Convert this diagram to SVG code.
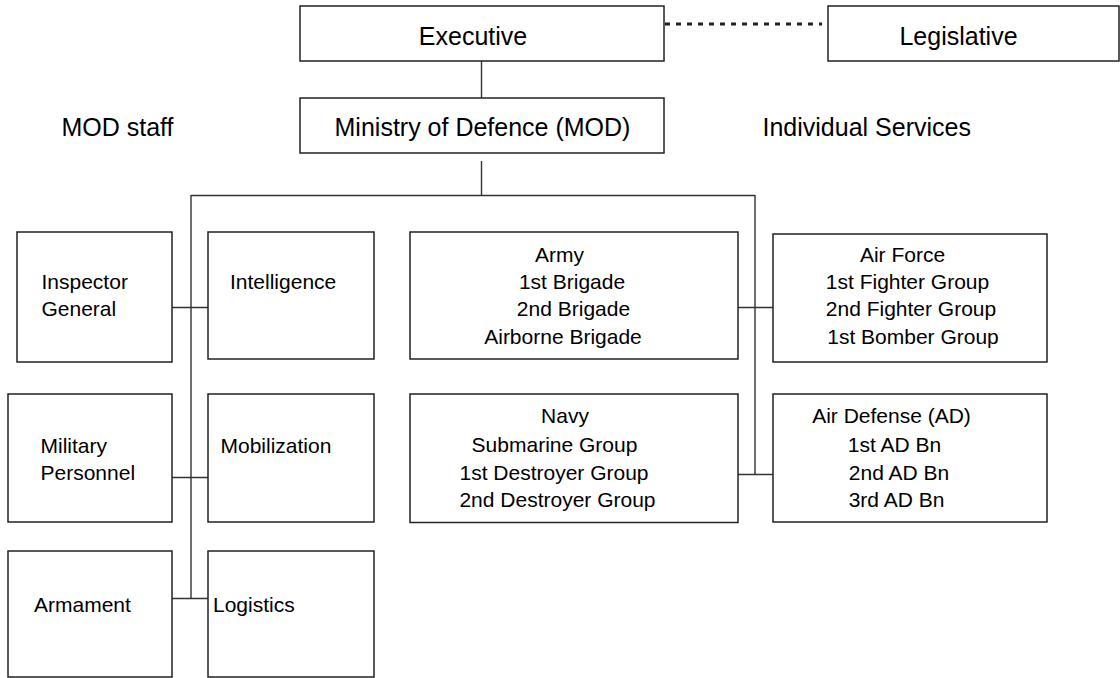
<svg xmlns="http://www.w3.org/2000/svg" width="1120" height="678" viewBox="0 0 1120 678">
<style>
.box{fill:#fff;stroke:#222;stroke-width:1.5}
.ln{fill:none;stroke:#333;stroke-width:1.4}
.dot{fill:none;stroke:#222;stroke-width:3;stroke-dasharray:5 6}
text{font-family:"Liberation Sans",Arial,sans-serif;fill:#000}
.big{font-size:25px}
.sm{font-size:21px}
.c{text-anchor:middle}
</style>
<rect width="1120" height="678" fill="#fff"/>
<g id="connectors">
<line class="dot" x1="665" y1="24" x2="822" y2="24"/>
<line class="ln" x1="481.5" y1="61" x2="481.5" y2="98"/>
<line class="ln" x1="481.5" y1="161" x2="481.5" y2="195.5"/>
<line class="ln" x1="191" y1="195.5" x2="755" y2="195.5"/>
<line class="ln" x1="191" y1="195" x2="191" y2="598.5"/>
<line class="ln" x1="755" y1="195" x2="755" y2="474.5"/>
<line class="ln" x1="172" y1="307.5" x2="208" y2="307.5"/>
<line class="ln" x1="172" y1="477.5" x2="208" y2="477.5"/>
<line class="ln" x1="172" y1="598.5" x2="208" y2="598.5"/>
<line class="ln" x1="738" y1="307.5" x2="773" y2="307.5"/>
<line class="ln" x1="738" y1="474.5" x2="773" y2="474.5"/>
</g>
<g id="executive">
<rect class="box" x="300" y="6" width="364" height="55"/>
<text class="big c" x="473" y="45">Executive</text>
</g>
<g id="legislative">
<rect class="box" x="828" y="6" width="291" height="55"/>
<text class="big c" x="958.5" y="45">Legislative</text>
</g>
<g id="mod">
<rect class="box" x="300" y="98" width="364" height="55"/>
<text class="big c" x="482.5" y="136">Ministry of Defence (MOD)</text>
</g>
<g id="label-mod-staff">
<text class="big" x="61.5" y="136">MOD staff</text>
</g>
<g id="label-individual-services">
<text class="big" x="762.5" y="136">Individual Services</text>
</g>
<g id="inspector-general">
<rect class="box" x="17" y="232" width="155" height="130"/>
<text class="sm" x="41.5" y="289">Inspector</text>
<text class="sm" x="41.5" y="316">General</text>
</g>
<g id="intelligence">
<rect class="box" x="208" y="232" width="166" height="127"/>
<text class="sm" x="230" y="289">Intelligence</text>
</g>
<g id="military-personnel">
<rect class="box" x="8" y="394" width="164" height="128"/>
<text class="sm" x="40.5" y="452.5">Military</text>
<text class="sm" x="40.5" y="480">Personnel</text>
</g>
<g id="mobilization">
<rect class="box" x="208" y="394" width="166" height="128"/>
<text class="sm" x="220.5" y="452.5">Mobilization</text>
</g>
<g id="armament">
<rect class="box" x="8" y="551" width="164" height="126"/>
<text class="sm" x="34" y="611.5">Armament</text>
</g>
<g id="logistics">
<rect class="box" x="208" y="551" width="166" height="126"/>
<text class="sm" x="213" y="611.5">Logistics</text>
</g>
<g id="army">
<rect class="box" x="410" y="232" width="328" height="127"/>
<text class="sm c" x="559.5" y="262">Army</text>
<text class="sm c" x="572" y="288.5">1st Brigade</text>
<text class="sm c" x="573.5" y="315.5">2nd Brigade</text>
<text class="sm c" x="563" y="344">Airborne Brigade</text>
</g>
<g id="air-force">
<rect class="box" x="773" y="234" width="274" height="128"/>
<text class="sm c" x="902.5" y="262">Air Force</text>
<text class="sm c" x="907.5" y="288.5">1st Fighter Group</text>
<text class="sm c" x="911" y="315.5">2nd Fighter Group</text>
<text class="sm c" x="913" y="344">1st Bomber Group</text>
</g>
<g id="navy">
<rect class="box" x="410" y="394" width="328" height="128.5"/>
<text class="sm c" x="565" y="423">Navy</text>
<text class="sm c" x="554.5" y="451.5">Submarine Group</text>
<text class="sm c" x="554" y="480">1st Destroyer Group</text>
<text class="sm c" x="557.5" y="506.5">2nd Destroyer Group</text>
</g>
<g id="air-defense">
<rect class="box" x="773" y="394" width="274" height="128"/>
<text class="sm c" x="891.5" y="423">Air Defense (AD)</text>
<text class="sm c" x="894.5" y="451.5">1st AD Bn</text>
<text class="sm c" x="899" y="480">2nd AD Bn</text>
<text class="sm c" x="896.5" y="506.5">3rd AD Bn</text>
</g>
</svg>
